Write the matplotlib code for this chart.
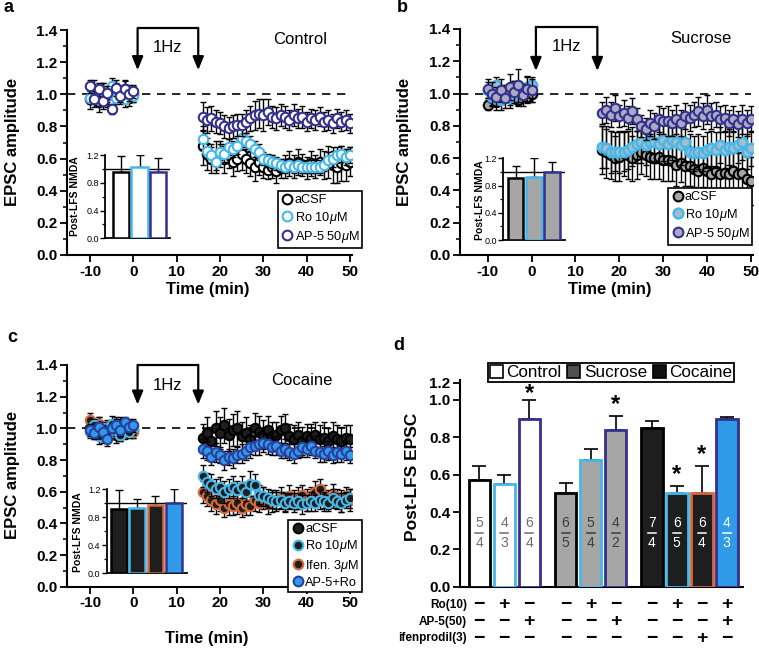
import numpy as np
import matplotlib
matplotlib.use("Agg")
import matplotlib.pyplot as plt
from matplotlib.patches import Patch
from matplotlib.lines import Line2D
from matplotlib.ticker import MultipleLocator
from matplotlib.transforms import blended_transform_factory

plt.rcParams['font.family'] = ['Liberation Sans', 'DejaVu Sans']
plt.rcParams['mathtext.fontset'] = 'custom'
plt.rcParams['mathtext.it'] = 'Liberation Sans:italic'
plt.rcParams['mathtext.rm'] = 'Liberation Sans'
plt.rcParams['mathtext.bf'] = 'Liberation Sans:bold'

# ---------------- data ----------------
t_pre = [-10, -9, -8, -7, -6, -5, -4, -3, -2, -1, 0]
t_post = list(range(16, 51))

# Panel a (Control)
a_acsf_pre = [0.97, 1.00, 0.95, 1.02, 0.98, 0.96, 1.01, 0.99, 1.03, 0.98, 1.00]
a_ro_pre = [0.98, 1.04, 0.97, 1.02, 0.99, 1.05, 0.98, 1.01, 0.97, 1.02, 0.99]
a_ap5_pre = [1.05, 0.97, 1.03, 0.96, 1.01, 0.91, 1.04, 0.99, 1.03, 1.00, 1.02]
a_acsf_pre_err = [0.06, 0.05, 0.06, 0.05, 0.06, 0.05, 0.06, 0.05, 0.06, 0.05, 0.05]
a_ro_pre_err = [0.04, 0.05, 0.04, 0.05, 0.04, 0.05, 0.04, 0.04, 0.05, 0.04, 0.04]
a_ap5_pre_err = [0.04, 0.05, 0.04, 0.05, 0.04, 0.03, 0.05, 0.04, 0.05, 0.04, 0.04]
a_acsf_post = [0.68, 0.63, 0.60, 0.61, 0.63, 0.60, 0.62, 0.58, 0.60, 0.63,
               0.60, 0.57, 0.55, 0.58, 0.55, 0.53, 0.55, 0.52, 0.54, 0.55,
               0.57, 0.55, 0.58, 0.56, 0.54, 0.57, 0.55, 0.58, 0.56, 0.58,
               0.56, 0.55, 0.57, 0.56, 0.58]
a_acsf_post_err = [0.12, 0.10, 0.09, 0.10, 0.08, 0.09, 0.08, 0.09, 0.08, 0.10,
                   0.09, 0.08, 0.09, 0.08, 0.07, 0.06, 0.07, 0.07, 0.06, 0.07,
                   0.08, 0.07, 0.08, 0.07, 0.07, 0.08, 0.07, 0.08, 0.09, 0.10,
                   0.11, 0.10, 0.11, 0.10, 0.09]
a_ro_post = [0.72, 0.65, 0.62, 0.58, 0.64, 0.63, 0.67, 0.66, 0.68, 0.73,
             0.71, 0.69, 0.66, 0.64, 0.60, 0.59, 0.58, 0.57, 0.56, 0.55,
             0.56, 0.55, 0.56, 0.55, 0.55, 0.55, 0.55, 0.55, 0.56, 0.59,
             0.60, 0.62, 0.63, 0.61, 0.62]
a_ro_post_err = [0.06, 0.05, 0.05, 0.05, 0.05, 0.05, 0.05, 0.05, 0.05, 0.06,
                 0.05, 0.05, 0.05, 0.05, 0.04, 0.04, 0.04, 0.04, 0.04, 0.04,
                 0.04, 0.04, 0.04, 0.04, 0.04, 0.04, 0.04, 0.04, 0.04, 0.05,
                 0.05, 0.05, 0.05, 0.05, 0.05]
a_ap5_post = [0.86, 0.84, 0.85, 0.83, 0.82, 0.80, 0.79, 0.80, 0.81, 0.81,
              0.83, 0.85, 0.87, 0.88, 0.87, 0.89, 0.86, 0.85, 0.87, 0.86,
              0.84, 0.87, 0.85, 0.86, 0.83, 0.85, 0.84, 0.86, 0.83, 0.84,
              0.82, 0.85, 0.83, 0.84, 0.82]
a_ap5_post_err = [0.09, 0.08, 0.08, 0.07, 0.07, 0.07, 0.07, 0.07, 0.07, 0.07,
                  0.07, 0.08, 0.09, 0.09, 0.10, 0.08, 0.07, 0.07, 0.07, 0.07,
                  0.06, 0.07, 0.06, 0.07, 0.06, 0.06, 0.06, 0.06, 0.06, 0.06,
                  0.06, 0.06, 0.06, 0.06, 0.06]

# Panel b (Sucrose)
b_acsf_pre = [0.93, 0.97, 0.95, 0.98, 1.00, 0.97, 0.99, 0.96, 1.01, 0.98, 1.00]
b_ro_pre = [1.02, 0.98, 1.05, 0.96, 1.00, 0.97, 1.03, 0.99, 1.01, 1.04, 1.05]
b_ap5_pre = [1.03, 1.00, 0.98, 1.02, 0.97, 1.04, 1.01, 1.05, 0.99, 1.03, 1.02]
b_acsf_pre_err = [0.03, 0.04, 0.05, 0.04, 0.05, 0.04, 0.05, 0.04, 0.05, 0.04, 0.05]
b_ro_pre_err = [0.05, 0.06, 0.05, 0.06, 0.05, 0.06, 0.05, 0.06, 0.05, 0.06, 0.05]
b_ap5_pre_err = [0.06, 0.07, 0.06, 0.07, 0.06, 0.08, 0.07, 0.10, 0.07, 0.08, 0.07]
b_acsf_post = [0.65, 0.64, 0.62, 0.60, 0.61, 0.63, 0.62, 0.60, 0.62, 0.64,
               0.62, 0.61, 0.60, 0.61, 0.59, 0.59, 0.58, 0.56, 0.57, 0.55,
               0.55, 0.53, 0.52, 0.54, 0.52, 0.50, 0.52, 0.50, 0.51, 0.50,
               0.52, 0.50, 0.51, 0.47, 0.46]
b_acsf_post_err = [0.15, 0.16, 0.15, 0.14, 0.15, 0.14, 0.15, 0.14, 0.15, 0.14,
                   0.13, 0.14, 0.13, 0.14, 0.13, 0.13, 0.12, 0.13, 0.12, 0.12,
                   0.12, 0.11, 0.12, 0.12, 0.12, 0.13, 0.12, 0.13, 0.12, 0.13,
                   0.12, 0.13, 0.13, 0.14, 0.15]
b_ro_post = [0.67, 0.66, 0.64, 0.64, 0.64, 0.64, 0.65, 0.67, 0.69, 0.70,
             0.68, 0.70, 0.70, 0.69, 0.71, 0.69, 0.71, 0.70, 0.68, 0.70,
             0.64, 0.63, 0.64, 0.63, 0.65, 0.66, 0.65, 0.68, 0.65, 0.67,
             0.66, 0.68, 0.70, 0.64, 0.66]
b_ro_post_err = [0.13, 0.12, 0.13, 0.12, 0.13, 0.12, 0.12, 0.12, 0.12, 0.13,
                 0.12, 0.12, 0.13, 0.12, 0.13, 0.12, 0.12, 0.12, 0.12, 0.12,
                 0.11, 0.11, 0.11, 0.11, 0.11, 0.11, 0.11, 0.11, 0.11, 0.11,
                 0.11, 0.11, 0.11, 0.11, 0.11]
b_ap5_post = [0.88, 0.90, 0.87, 0.91, 0.86, 0.88, 0.85, 0.89, 0.84, 0.80,
              0.78, 0.82, 0.80, 0.84, 0.83, 0.83, 0.82, 0.84, 0.82, 0.86,
              0.85, 0.87, 0.89, 0.86, 0.90, 0.86, 0.87, 0.84, 0.85, 0.82,
              0.84, 0.81, 0.84, 0.82, 0.84]
b_ap5_post_err = [0.07, 0.08, 0.08, 0.08, 0.07, 0.08, 0.07, 0.08, 0.07, 0.07,
                  0.07, 0.08, 0.08, 0.08, 0.08, 0.09, 0.08, 0.09, 0.08, 0.08,
                  0.08, 0.08, 0.09, 0.08, 0.09, 0.08, 0.08, 0.08, 0.08, 0.08,
                  0.08, 0.08, 0.09, 0.08, 0.08]

# Panel c (Cocaine)
c_acsf_pre = [1.00, 0.97, 1.02, 0.95, 0.99, 1.01, 0.96, 1.03, 0.98, 1.00, 0.99]
c_ro_pre = [0.98, 1.02, 0.95, 1.00, 0.97, 1.03, 0.99, 0.96, 1.01, 0.98, 1.00]
c_ifen_pre = [1.05, 0.99, 1.03, 0.97, 1.01, 0.98, 1.02, 0.96, 1.00, 1.01, 0.98]
c_ap5ro_pre = [0.99, 0.97, 1.01, 0.98, 0.93, 1.00, 1.02, 0.99, 1.04, 1.01, 1.02]
c_acsf_pre_err = [0.05, 0.04, 0.05, 0.04, 0.05, 0.04, 0.05, 0.04, 0.05, 0.04, 0.05]
c_ro_pre_err = [0.04, 0.04, 0.05, 0.04, 0.04, 0.05, 0.04, 0.04, 0.05, 0.04, 0.04]
c_ifen_pre_err = [0.05, 0.04, 0.04, 0.05, 0.04, 0.04, 0.05, 0.04, 0.04, 0.05, 0.04]
c_ap5ro_pre_err = [0.04, 0.04, 0.03, 0.04, 0.04, 0.03, 0.04, 0.04, 0.03, 0.04, 0.04]
c_acsf_post = [0.94, 0.97, 0.92, 1.00, 0.97, 1.02, 0.96, 0.99, 1.00, 0.95,
               0.97, 0.93, 1.00, 0.98, 0.96, 0.99, 0.95, 0.96, 0.99, 1.00,
               0.95, 0.93, 0.96, 0.92, 0.95, 0.94, 0.96, 0.93, 0.94, 0.92,
               0.95, 0.93, 0.92, 0.94, 0.93]
c_acsf_post_err = [0.09, 0.10, 0.09, 0.11, 0.10, 0.11, 0.10, 0.10, 0.11, 0.09,
                   0.10, 0.09, 0.10, 0.10, 0.09, 0.09, 0.09, 0.08, 0.09, 0.09,
                   0.08, 0.09, 0.08, 0.09, 0.08, 0.09, 0.08, 0.09, 0.10, 0.08,
                   0.09, 0.09, 0.09, 0.08, 0.09]
c_ro_post = [0.70, 0.66, 0.64, 0.62, 0.63, 0.60, 0.62, 0.63, 0.61, 0.63,
             0.60, 0.65, 0.64, 0.58, 0.57, 0.56, 0.55, 0.54, 0.55, 0.53,
             0.54, 0.53, 0.54, 0.52, 0.53, 0.54, 0.53, 0.55, 0.54, 0.53,
             0.56, 0.54, 0.53, 0.55, 0.56]
c_ro_post_err = [0.07, 0.06, 0.07, 0.06, 0.06, 0.07, 0.06, 0.07, 0.06, 0.07,
                 0.06, 0.08, 0.07, 0.06, 0.06, 0.06, 0.05, 0.06, 0.05, 0.06,
                 0.05, 0.06, 0.05, 0.06, 0.05, 0.06, 0.05, 0.06, 0.06, 0.05,
                 0.06, 0.05, 0.06, 0.05, 0.06]
c_ifen_post = [0.60, 0.57, 0.55, 0.52, 0.55, 0.50, 0.52, 0.51, 0.53, 0.50,
               0.52, 0.51, 0.55, 0.53, 0.56, 0.52, 0.54, 0.55, 0.56, 0.54,
               0.57, 0.55, 0.56, 0.58, 0.55, 0.57, 0.60, 0.62, 0.57, 0.55,
               0.58, 0.56, 0.54, 0.57, 0.55]
c_ifen_post_err = [0.07, 0.06, 0.07, 0.06, 0.07, 0.06, 0.07, 0.06, 0.07, 0.06,
                   0.07, 0.06, 0.07, 0.06, 0.07, 0.06, 0.07, 0.06, 0.07, 0.06,
                   0.07, 0.06, 0.07, 0.06, 0.07, 0.06, 0.07, 0.06, 0.07, 0.06,
                   0.07, 0.06, 0.07, 0.06, 0.07]
c_ap5ro_post = [0.87, 0.86, 0.82, 0.85, 0.83, 0.80, 0.82, 0.81, 0.83, 0.84,
                0.86, 0.88, 0.89, 0.90, 0.91, 0.90, 0.88, 0.89, 0.86, 0.87,
                0.85, 0.84, 0.86, 0.88, 0.87, 0.89, 0.86, 0.85, 0.84, 0.86,
                0.83, 0.85, 0.84, 0.86, 0.83]
c_ap5ro_post_err = [0.06, 0.06, 0.05, 0.06, 0.05, 0.06, 0.05, 0.06, 0.05, 0.06,
                    0.06, 0.07, 0.06, 0.07, 0.06, 0.06, 0.05, 0.06, 0.05, 0.06,
                    0.05, 0.06, 0.05, 0.06, 0.05, 0.06, 0.05, 0.06, 0.05, 0.06,
                    0.05, 0.06, 0.05, 0.06, 0.05]

# Insets (Post-LFS NMDA)
ia_vals = [0.96, 1.02, 0.96]
ia_err = [0.22, 0.18, 0.20]
ib_vals = [0.91, 0.93, 1.00]
ib_err = [0.17, 0.27, 0.15]
ic_vals = [0.92, 0.94, 0.97, 1.01]
ic_err = [0.27, 0.12, 0.14, 0.20]

# Panel d
d_vals = [0.57, 0.55, 0.90, 0.50, 0.68, 0.84, 0.85, 0.50, 0.50, 0.90]
d_err = [0.075, 0.05, 0.10, 0.055, 0.06, 0.075, 0.04, 0.04, 0.145, 0.01]
d_group_sizes = [3, 3, 4]
d_num = ['5', '4', '6', '6', '5', '4', '7', '6', '6', '4']
d_den = ['4', '3', '4', '5', '4', '2', '4', '5', '4', '3']
d_star = [False, False, True, False, False, True, False, True, True, False]
d_rows = ['Ro(10)', 'AP-5(50)', 'ifenprodil(3)']
d_signs = [['−', '+', '−', '−', '+', '−', '−', '+', '−', '+'],
           ['−', '−', '+', '−', '−', '+', '−', '−', '−', '+'],
           ['−', '−', '−', '−', '−', '−', '−', '−', '+', '−']]
d_legend = ['Control', 'Sucrose', 'Cocaine']

# ---------------- styles ----------------
LB = '#44b8ea'
DB = '#35308f'
OR = '#d8693c'
GR = '#a6a6a6'
BK = '#1e1e1e'
BL = '#2f9be8'

W, H = 759, 654
fig = plt.figure(figsize=(7.59, 6.54), dpi=100)


def fax(l, b, r, t):
    return fig.add_axes([l / W, 1 - b / H, (r - l) / W, (b - t) / H])


def style_main(ax, xlim):
    ax.set_xlim(*xlim)
    ax.set_ylim(0, 1.4)
    for s in ['top', 'right']:
        ax.spines[s].set_visible(False)
    for s in ['left', 'bottom']:
        ax.spines[s].set_linewidth(1.5)
    ax.set_xticks([-10, 0, 10, 20, 30, 40, 50])
    ax.set_xticklabels(['-10', '0', '10', '20', '30', '40', '50'],
                       fontweight='bold', fontsize=11)
    yt = [0, 0.2, 0.4, 0.6, 0.8, 1.0, 1.2, 1.4]
    ax.set_yticks(yt)
    ax.set_yticklabels(['%.1f' % v for v in yt], fontweight='bold', fontsize=11)
    ax.yaxis.set_minor_locator(MultipleLocator(0.1))
    ax.tick_params(direction='out', length=5, width=1.3, pad=2)
    ax.tick_params(which='minor', length=3, width=1.1)
    ax.hlines(1.0, xlim[0], 50, colors='k', linestyles=(0, (5, 4)), lw=1.2, zorder=1)


def series(ax, y_pre, y_post, e_pre, e_post, fc, ec, z, mew=1.5):
    t = t_pre + t_post
    y = y_pre + y_post
    e = e_pre + e_post
    ax.errorbar(t, y, yerr=e, fmt='none', ecolor='k', elinewidth=1.0,
                capsize=2.5, capthick=1.0, zorder=z)
    ax.plot(t, y, 'o', ls='none', ms=6.8, mfc=fc, mec=ec, mew=mew, zorder=z + 0.5)


def bracket(ax, t0, t1, ytop, ytip, ylab):
    ax.plot([t0, t1], [ytop, ytop], color='k', lw=1.6, clip_on=False,
            solid_capstyle='projecting')
    for tt in (t0, t1):
        ax.annotate('', xy=(tt, ytip), xytext=(tt, ytop),
                    arrowprops=dict(arrowstyle='-|>,head_width=0.33,head_length=0.8',
                                    lw=1.6, color='k', shrinkA=0, shrinkB=0),
                    annotation_clip=False)
    ax.text((t0 + t1) / 2, ylab, '1Hz', ha='center', va='center', fontsize=12)


def inset(rect, vals, errs, faces, edges, xlim, lab_px):
    ax = fax(*rect)
    x = np.arange(len(vals))
    ax.bar(x, vals, width=0.86, color=faces, edgecolor=edges, lw=1.8, zorder=3)
    ax.errorbar(x, vals, yerr=[np.zeros(len(vals)), errs], fmt='none', ecolor='k',
                elinewidth=1.0, capsize=3, capthick=1.0, zorder=2)
    ax.axhline(1.0, color='k', lw=1.0, zorder=1)
    ax.set_ylim(0, 1.2)
    ax.set_xlim(*xlim)
    ax.patch.set_alpha(0)
    for s in ['top', 'right']:
        ax.spines[s].set_visible(False)
    for s in ['left', 'bottom']:
        ax.spines[s].set_linewidth(1.3)
    ax.set_xticks([])
    ax.set_yticks([0, 0.4, 0.8, 1.2])
    ax.set_yticklabels(['0.0', '0.4', '0.8', '1.2'], fontsize=6.5)
    ax.yaxis.set_minor_locator(MultipleLocator(0.2))
    ax.tick_params(axis='y', direction='out', length=3.5, width=1.0, pad=1)
    ax.tick_params(axis='y', which='minor', length=2.5, width=0.9)
    fig.text(lab_px[0] / W, 1 - lab_px[1] / H, 'Post-LFS NMDA', rotation=90,
             ha='center', va='center', fontsize=7.5, fontweight='bold')
    return ax


def legend(ax, handles, labels, anchor):
    leg = ax.legend(handles, labels, loc='lower left', bbox_to_anchor=anchor,
                    fontsize=9.2, frameon=True, fancybox=False, edgecolor='k',
                    borderpad=0.25, handletextpad=0.05, handlelength=1.0,
                    labelspacing=0.25, borderaxespad=0, framealpha=1)
    leg.get_frame().set_linewidth(1.2)
    leg.set_zorder(10)


def mk(fc, ec, mew=1.5):
    return Line2D([], [], marker='o', ls='none', ms=7, mfc=fc, mec=ec, mew=mew)


mu = '$\\mu$'

# ---------------- panel a ----------------
axA = fax(67, 255, 352, 30)
style_main(axA, (-15.3, 50.5))
series(axA, a_acsf_pre, a_acsf_post, a_acsf_pre_err, a_acsf_post_err, 'white', 'k', 3)
series(axA, a_ro_pre, a_ro_post, a_ro_pre_err, a_ro_post_err, 'white', LB, 4)
series(axA, a_ap5_pre, a_ap5_post, a_ap5_pre_err, a_ap5_post_err, 'white', DB, 5)
bracket(axA, 1, 15, 1.41, 1.15, 1.29)
axA.text(38.6, 1.34, 'Control', ha='center', va='center', fontsize=12)
legend(axA, [mk('white', 'k'), mk('white', LB), mk('white', DB)],
       ['aCSF', 'Ro 10' + mu + 'M', 'AP-5 50' + mu + 'M'], (0.74, 0.031))
inset((105, 238.3, 170, 155), ia_vals, ia_err, ['white'] * 3, ['k', LB, DB],
      (-0.84, 2.62), (75, 196))
fig.text(13 / W, 1 - 142 / H, 'EPSC amplitude', rotation=90, ha='center',
         va='center', fontsize=12, fontweight='bold')
fig.text(208 / W, 1 - 290 / H, 'Time (min)', ha='center', va='center',
         fontsize=12, fontweight='bold')

# ---------------- panel b ----------------
axB = fax(460, 255, 752.7, 29)
style_main(axB, (-16.3, 50.4))
series(axB, b_acsf_pre, b_acsf_post, b_acsf_pre_err, b_acsf_post_err, GR, 'k', 3)
series(axB, b_ro_pre, b_ro_post, b_ro_pre_err, b_ro_post_err, '#a9bcc6', LB, 4, mew=1.8)
series(axB, b_ap5_pre, b_ap5_post, b_ap5_pre_err, b_ap5_post_err, '#aaaac0', DB, 5)
bracket(axB, 1, 15, 1.41, 1.14, 1.29)
axB.text(38.5, 1.34, 'Sucrose', ha='center', va='center', fontsize=12)
legend(axB, [mk(GR, 'k'), mk('#a9bcc6', LB, 1.8), mk('#aaaac0', DB)],
       ['aCSF', 'Ro 10' + mu + 'M', 'AP-5 50' + mu + 'M'], (0.711, 0.044))
inset((503.3, 240, 565, 158.3), ib_vals, ib_err, [GR] * 3, ['k', LB, DB],
      (-0.67, 2.71), (480, 200))
fig.text(405 / W, 1 - 142 / H, 'EPSC amplitude', rotation=90, ha='center',
         va='center', fontsize=12, fontweight='bold')
fig.text(610 / W, 1 - 290 / H, 'Time (min)', ha='center', va='center',
         fontsize=12, fontweight='bold')

# ---------------- panel c ----------------
axC = fax(67, 586.7, 352, 365)
style_main(axC, (-15.3, 50.5))
series(axC, c_acsf_pre, c_acsf_post, c_acsf_pre_err, c_acsf_post_err, BK, 'k', 3)
series(axC, c_ifen_pre, c_ifen_post, c_ifen_pre_err, c_ifen_post_err, BK, OR, 4)
series(axC, c_ro_pre, c_ro_post, c_ro_pre_err, c_ro_post_err, BK, LB, 5)
series(axC, c_ap5ro_pre, c_ap5ro_post, c_ap5ro_pre_err, c_ap5ro_post_err, BL, '#2a3f9e', 6)
bracket(axC, 1, 15, 1.40, 1.15, 1.27)
axC.text(38.9, 1.30, 'Cocaine', ha='center', va='center', fontsize=12)
legend(axC, [mk(BK, 'k'), mk(BK, LB), mk(BK, OR), mk(BL, '#2a3f9e')],
       ['aCSF', 'Ro 10' + mu + 'M', 'Ifen. 3' + mu + 'M', 'AP-5+Ro'], (0.777, -0.024))
inset((106.7, 573.3, 186.7, 489.3), ic_vals, ic_err, [BK, BK, BK, BL],
      ['k', LB, OR, DB], (-0.65, 3.7), (78, 532))
fig.text(13 / W, 1 - 475 / H, 'EPSC amplitude', rotation=90, ha='center',
         va='center', fontsize=12, fontweight='bold')
fig.text(207 / W, 1 - 638 / H, 'Time (min)', ha='center', va='center',
         fontsize=12, fontweight='bold')

# ---------------- panel d ----------------
axD = fax(460, 586.7, 743, 380)
pos = []
start = 0.0
for g in d_group_sizes:
    pos.extend([start + k for k in range(g)])
    start += g + 0.45
pos = np.array(pos)
faces = ['white'] * 3 + [GR] * 3 + [BK] * 3 + [BL]
edges = ['k', LB, DB, 'k', LB, DB, 'k', LB, OR, DB]
txtcol = ['#6e6e6e'] * 3 + ['#3c3c3c'] * 3 + ['white'] * 4
axD.bar(pos, d_vals, width=0.86, color=faces, edgecolor=edges, lw=2.0, zorder=3)
axD.errorbar(pos, d_vals, yerr=[np.zeros(len(d_vals)), d_err], fmt='none',
             ecolor='k', elinewidth=1.2, capsize=5, capthick=1.2, zorder=2)
for i, x in enumerate(pos):
    axD.text(x, 0.34, d_num[i], ha='center', va='center', fontsize=10, color=txtcol[i], zorder=5)
    axD.text(x, 0.235, d_den[i], ha='center', va='center', fontsize=10, color=txtcol[i], zorder=5)
    axD.plot([x - 0.16, x + 0.16], [0.287, 0.287], color=txtcol[i], lw=1.1, zorder=5)
    if d_star[i]:
        ys = min(d_vals[i] + d_err[i] + 0.065, 1.035)
        axD.text(x, ys, r'$\mathbf{*}$', ha='center', va='center',
                 fontsize=17, zorder=12)
axD.set_xlim(-0.77, 10.55)
axD.set_ylim(0, 1.107)
for s in ['top', 'right']:
    axD.spines[s].set_visible(False)
for s in ['left', 'bottom']:
    axD.spines[s].set_linewidth(1.5)
axD.set_xticks([])
axD.set_yticks([0, 0.2, 0.4, 0.6, 0.8, 1.0, 1.093])
axD.set_yticklabels(['0.0', '0.2', '0.4', '0.6', '0.8', '1.0', '1.2'],
                    fontweight='bold', fontsize=11)
axD.tick_params(axis='y', direction='out', length=5, width=1.3, pad=2)
fig.text(412 / W, 1 - 477 / H, 'Post-LFS EPSC', rotation=90, ha='center',
         va='center', fontsize=12.5, fontweight='bold')

trans = blended_transform_factory(axD.transData, axD.transAxes)
row_y = [-0.0885, -0.169, -0.249]
for r, lab in enumerate(d_rows):
    axD.text(0.025, row_y[r], lab, transform=axD.transAxes, ha='right', va='center',
             fontsize=8.5, fontweight='bold', clip_on=False)
    for i, x in enumerate(pos):
        axD.text(x, row_y[r], d_signs[r][i], transform=trans, ha='center', va='center',
                 fontsize=14, fontweight='bold', clip_on=False)

lh = [Patch(facecolor='white', edgecolor='k', lw=1.2),
      Patch(facecolor='#505050', edgecolor='k', lw=1.2),
      Patch(facecolor='#111111', edgecolor='k', lw=1.2)]
legd = axD.legend(lh, d_legend, loc='center', bbox_to_anchor=(0.534, 1.035), ncol=3,
                  fontsize=12.3, frameon=True, fancybox=False, edgecolor='k',
                  borderpad=0.1, handletextpad=0.2, handlelength=0.75,
                  handleheight=0.75, columnspacing=0.35, borderaxespad=0, framealpha=1)
legd.get_frame().set_linewidth(1.3)
legd.set_zorder(6)

# ---------------- panel letters ----------------
for lab, (px, py) in zip('abcd', [(3, 8), (397, 8), (7, 337), (393, 346)]):
    fig.text(px / W, 1 - py / H, lab, ha='left', va='center', fontsize=13, fontweight='bold')

fig.savefig('out.png', dpi=100)
